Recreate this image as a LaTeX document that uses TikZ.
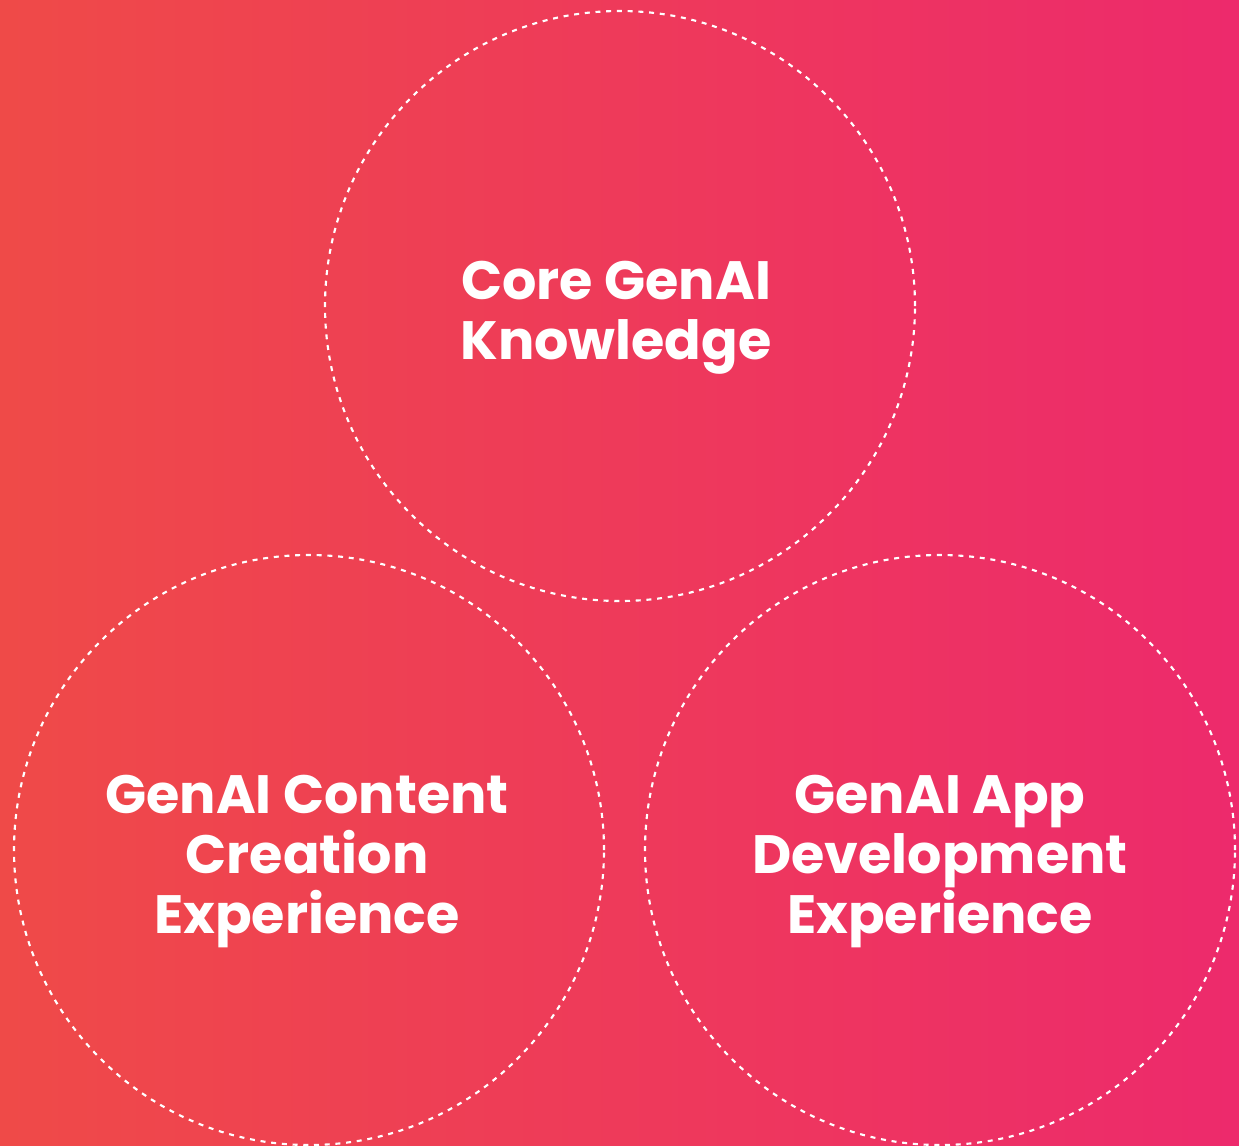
\documentclass[tikz,border=0pt]{standalone}
\usepackage{fontspec}
\setmainfont{Poppins}
\definecolor{bgleft}{RGB}{239,74,72}
\definecolor{bgright}{RGB}{237,42,108}
\begin{document}
\begin{tikzpicture}[x=0.75pt,y=-0.75pt,
  ring/.style={draw=white,line width=1.6pt,dash pattern=on 3.75pt off 4.3pt,circle,minimum size=442.5pt,inner sep=0pt},
  label/.style={text=white,align=center,font=\bfseries\fontsize{40.5}{45}\selectfont}]
\shade[left color=bgleft,right color=bgright] (0,0) rectangle (1239,1146);
\useasboundingbox (0,0) rectangle (1239,1146);
\node[ring] (top) at (620,306) {};
\node[ring] (left) at (309,850) {};
\node[ring] (right) at (940,850) {};
\node[label] (ttop) at (616,318) {Core GenAI\\Knowledge};
\node[label] (tleft) at (307,862) {GenAI Content\\Creation\\Experience};
\node[label] (tright) at (940,862) {GenAI App\\Development\\Experience};
\end{tikzpicture}
\end{document}
